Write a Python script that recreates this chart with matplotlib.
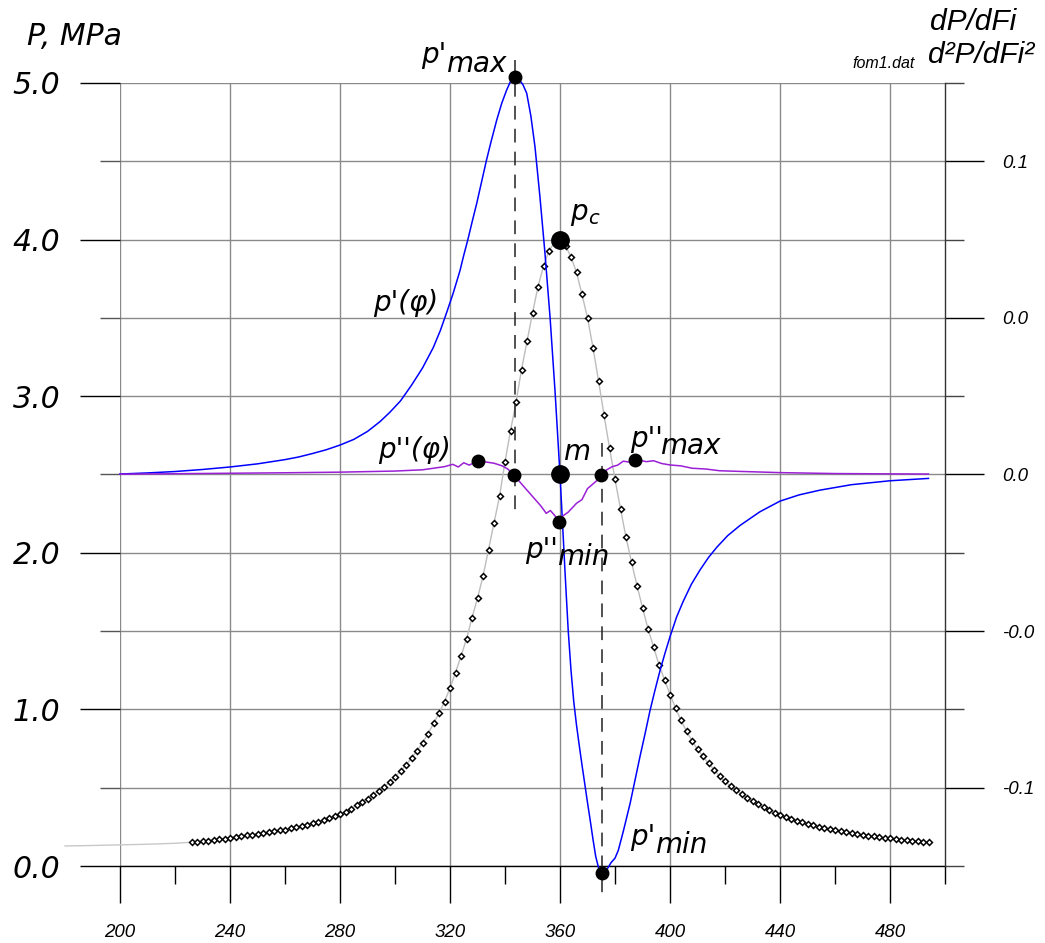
import numpy as np
import matplotlib
matplotlib.use('Agg')
import matplotlib.pyplot as plt

# ---------------- data ----------------
# pressure curve p(phi) (MPa), markers every 2 deg
p_x = np.arange(226, 495, 2)
p_val = [0.152, 0.155, 0.158, 0.162, 0.166, 0.170, 0.175, 0.181, 0.185, 0.190,
         0.195, 0.200, 0.205, 0.210, 0.215, 0.221, 0.227, 0.233, 0.240, 0.248,
         0.256, 0.265, 0.274, 0.284, 0.295, 0.306, 0.318, 0.332, 0.348, 0.366,
         0.387, 0.410, 0.430, 0.455, 0.480, 0.505, 0.535, 0.570, 0.605, 0.645,
         0.690, 0.735, 0.785, 0.845, 0.910, 0.975, 1.050, 1.135, 1.235, 1.340,
         1.450, 1.585, 1.710, 1.850, 2.020, 2.190, 2.360, 2.580, 2.780, 2.960,
         3.170, 3.350, 3.530, 3.700, 3.830, 3.930, 3.980, 4.000, 3.960, 3.890,
         3.790, 3.650, 3.500, 3.310, 3.100, 2.880, 2.670, 2.470, 2.280, 2.100,
         1.940, 1.790, 1.650, 1.515, 1.400, 1.285, 1.190, 1.095, 1.010, 0.930,
         0.860, 0.800, 0.745, 0.700, 0.655, 0.615, 0.575, 0.540, 0.510, 0.485,
         0.460, 0.435, 0.415, 0.395, 0.375, 0.357, 0.340, 0.325, 0.312, 0.300,
         0.289, 0.278, 0.268, 0.259, 0.251, 0.243, 0.236, 0.229, 0.222, 0.216,
         0.210, 0.204, 0.199, 0.194, 0.189, 0.185, 0.181, 0.177, 0.173, 0.169,
         0.165, 0.161, 0.158, 0.155, 0.152]
# lead-in part of the pressure line (no markers)
lead_x = [180, 190, 200, 210, 220, 226]
lead_val = [0.128, 0.131, 0.135, 0.139, 0.145, 0.152]

# first derivative p'(phi), drawn in left-axis units
d1_x = [200, 210, 220, 230, 240, 250, 260, 265, 270, 275, 280, 285, 290, 294.5,
        298, 302, 306, 310, 313.9, 316.5, 318.8, 321.2, 323.6, 325, 326.5, 328,
        329.7, 331.5, 333.3, 335, 337, 338.8, 340.6, 342, 343.6, 345, 346.5,
        347.9, 349.4, 350.9, 352.7, 354.5, 356.4, 358.2, 360, 361, 362, 363, 364,
        365, 366, 367, 368, 369, 370, 371, 372, 373, 374, 375, 375.5, 376.5,
        377.5, 378.5, 380, 381.2, 383, 385.5, 387.3, 389.1, 391, 392.7, 394.5,
        396.4, 398.2, 400, 402.4, 404.8, 407.8, 410.9, 414, 417, 421, 425.5,
        432.7, 440, 447, 454.5, 466, 480, 494]
d1_val = [2.503, 2.510, 2.519, 2.532, 2.548, 2.568, 2.595, 2.612, 2.634, 2.658,
          2.688, 2.724, 2.775, 2.837, 2.895, 2.970, 3.070, 3.180, 3.310, 3.42,
          3.535, 3.66, 3.80, 3.90, 4.00, 4.11, 4.23, 4.37, 4.51, 4.63, 4.764,
          4.87, 4.955, 5.01, 5.04, 5.025, 4.99, 4.934, 4.79, 4.593, 4.274, 3.92,
          3.50, 3.03, 2.50, 2.16, 1.82, 1.50, 1.25, 1.05, 0.90, 0.77, 0.645,
          0.525, 0.405, 0.29, 0.17, 0.06, -0.01, -0.045, -0.047, -0.035, -0.01,
          0.02, 0.05, 0.10, 0.22, 0.40, 0.55, 0.70, 0.85, 0.99, 1.12, 1.25, 1.36,
          1.464, 1.59, 1.69, 1.80, 1.89, 1.97, 2.035, 2.11, 2.175, 2.262, 2.33,
          2.37, 2.40, 2.435, 2.46, 2.475]

# second derivative p''(phi), drawn in left-axis units
d2_x = [200, 220, 240, 260, 280, 300, 310, 318, 321, 323, 325, 327, 330, 333, 336,
        339, 341, 343.3, 346, 350, 353, 355, 356.5, 358, 359.7, 361, 363, 366,
        368, 370, 372, 374, 375, 377, 379, 381, 383, 385, 387.3, 389, 391.5, 394,
        397, 400, 404, 408, 413, 418, 425, 440, 460, 480, 494]
d2_val = [2.502, 2.505, 2.508, 2.511, 2.515, 2.522, 2.53, 2.55, 2.565, 2.548,
          2.575, 2.56, 2.586, 2.58, 2.572, 2.555, 2.535, 2.497, 2.44, 2.36, 2.30,
          2.252, 2.27, 2.24, 2.20, 2.235, 2.26, 2.316, 2.34, 2.41, 2.44, 2.47,
          2.499, 2.53, 2.55, 2.56, 2.585, 2.58, 2.593, 2.59, 2.582, 2.588, 2.57,
          2.561, 2.555, 2.54, 2.535, 2.524, 2.52, 2.512, 2.506, 2.504, 2.503]

# characteristic points
small_pt_x = [343.5, 330, 343.3, 375, 387.3, 359.7, 375.4]
small_pt_y = [5.04, 2.586, 2.497, 2.499, 2.593, 2.199, -0.047]
big_pt_x = [360, 360]
big_pt_y = [4.0, 2.5]

# dashed guide lines (x, y_from, y_to)
guide_x = [343.5, 375.4]
guide_y0 = [5.15, 2.70]
guide_y1 = [2.25, -0.20]

x_ticks = [200, 240, 280, 320, 360, 400, 440, 480]
x_minor = [220, 260, 300, 340, 380, 420, 460, 500]
y_ticks = [0, 1, 2, 3, 4, 5]
y_minor = [0.5, 1.5, 2.5, 3.5, 4.5]
right_ticks = [0.5, 1.5, 2.5, 3.5, 4.5]
right_labels = ['-0.1', '-0.0', '0.0', '0.0', '0.1']
right_minor = [0, 1, 2, 3, 4, 5]

# ---------------- figure ----------------
W, H = 1045, 943
fig = plt.figure(figsize=(W / 100, H / 100), dpi=100)
ax = fig.add_axes([120 / W, (H - 866) / H, 825 / W, 783 / H])
ax.set_xlim(200, 500)
ax.set_ylim(0, 5)
for s in ['left', 'top', 'right']:
    ax.spines[s].set_visible(False)
ax.spines['bottom'].set_color('black')
ax.spines['bottom'].set_linewidth(1.0)

GRID = '#8a8a8a'
ax.set_xticks(x_ticks)
ax.set_xticks(x_minor, minor=True)
ax.set_yticks(y_ticks)
ax.set_yticks(y_minor, minor=True)
ax.set_yticklabels(['%.1f' % v for v in y_ticks])
ax.grid(axis='y', which='both', color=GRID, lw=1.0, zorder=0)
ax.grid(axis='x', which='major', color=GRID, lw=1.0, zorder=0)
ax.set_axisbelow(True)

ax.tick_params(axis='y', which='major', direction='out', length=28.8, width=1,
               color='black', pad=14, labelsize=21.6)
ax.tick_params(axis='y', which='minor', direction='out', length=14.4, width=1,
               color='#555555')
ax.tick_params(axis='x', which='major', direction='out', length=26.6, width=1,
               color='black', pad=15, labelsize=13.5)
ax.tick_params(axis='x', which='minor', direction='out', length=13, width=1,
               color='black')
for lbl in ax.get_yticklabels():
    lbl.set_fontfamily('DejaVu Sans')
    lbl.set_fontstyle('italic')
for lbl in ax.get_xticklabels():
    lbl.set_fontfamily('Liberation Sans')
    lbl.set_fontstyle('italic')

ax2 = ax.twinx()
ax2.set_ylim(0, 5)
for s in ['left', 'top', 'bottom']:
    ax2.spines[s].set_visible(False)
ax2.spines['right'].set_color('#333333')
ax2.spines['right'].set_linewidth(1.0)
ax2.set_yticks(right_ticks)
ax2.set_yticklabels(right_labels)
ax2.set_yticks(right_minor, minor=True)
ax2.tick_params(axis='y', which='major', direction='out', length=28, width=1,
                color='black', pad=13, labelsize=13.5)
ax2.tick_params(axis='y', which='minor', direction='out', length=14, width=1,
                color='#444444')
for lbl in ax2.get_yticklabels():
    lbl.set_fontfamily('Liberation Sans')
    lbl.set_fontstyle('italic')

# curves
ax.plot(lead_x, lead_val, color='#c8c8c8', lw=1.0, clip_on=False, zorder=2)
ax.plot(p_x, p_val, color='#bdbdbd', lw=1.0, marker='D', ms=3.0, mfc='white',
        mec='black', mew=1.1, clip_on=False, zorder=3)
ax.plot(d1_x, d1_val, color='#0000ff', lw=1.1, clip_on=False, zorder=4)
ax.plot(d2_x, d2_val, color='#9b1fd6', lw=1.1, clip_on=False, zorder=4)

for gx, g0, g1 in zip(guide_x, guide_y0, guide_y1):
    ax.plot([gx, gx], [g0, g1], color='#222222', lw=1.1, ls=(0, (9, 6)),
            clip_on=False, zorder=3)

ax.plot(small_pt_x, small_pt_y, 'o', color='black', ms=9, clip_on=False, zorder=6)
ax.plot(big_pt_x, big_pt_y, 'o', color='black', ms=12.5, clip_on=False, zorder=6)

# ---------------- texts ----------------
def ftext(px, py, s, size=20, fam='DejaVu Sans'):
    fig.text(px / W, 1 - py / H, s, fontsize=size, fontstyle='italic',
             family=fam, ha='left', va='baseline')

ftext(27, 45, 'P, MPa', 21.5)
ftext(852, 68, 'fom1.dat', 11.5, 'Liberation Sans')
ftext(930, 30, 'dP/dFi', 21.5, 'Liberation Sans')
ftext(928, 63, 'd\u00b2P/dFi\u00b2', 21.5, 'Liberation Sans')

ftext(421, 63, "p'")
ftext(446, 72, 'max')
ftext(570, 220, 'p')
ftext(588, 224, 'c', 14)
ftext(373, 311, "p'(\u03c6)")
ftext(378, 458, "p''(\u03c6)")
ftext(563, 460, 'm')
ftext(630, 447, "p''")
ftext(660, 454, 'max')
ftext(525, 558, "p''")
ftext(557, 565, 'min')
ftext(630, 845, "p'")
ftext(655, 853, 'min')

fig.savefig('out.png', dpi=100)
